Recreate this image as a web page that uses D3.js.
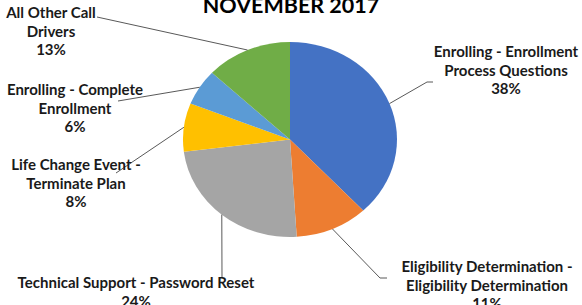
<!DOCTYPE html>
<html><head><meta charset="utf-8">
<script src="https://cdn.jsdelivr.net/npm/d3@7"></script>
<style>body{margin:0;background:#fff}svg{display:block}</style>
</head><body><svg id="c" width="582" height="305"></svg>
<script>
const title = "NOVEMBER 2017";
const categories = [
  "Enrolling - Enrollment Process Questions",
  "Eligibility Determination - Eligibility Determination",
  "Technical Support - Password Reset",
  "Life Change Event - Terminate Plan",
  "Enrolling - Complete Enrollment",
  "All Other Call Drivers"
];
const values = [38, 11, 24, 8, 6, 13];
const labelLines = [
  ["Enrolling - Enrollment", "Process Questions"],
  ["Eligibility Determination -", "Eligibility Determination"],
  ["Technical Support - Password Reset"],
  ["Life Change Event -", "Terminate Plan"],
  ["Enrolling - Complete", "Enrollment"],
  ["All Other Call", "Drivers"]
];
const colors = ["#4472C4", "#ED7D31", "#A5A5A5", "#FFC000", "#5B9BD5", "#70AD47"];

// layout
const cx = 290, cy = 139.5, rx = 107, ry = 97.5;
const labelPos = [
  {x: 506, y: 57, pts: [[427, 82], [433, 82]]},
  {x: 487, y: 272, pts: [[380, 278], [387, 278]]},
  {x: 136, y: 288, pts: [[222, 278]]},
  {x: 76, y: 170, pts: [[116, 173]]},
  {x: 75, y: 95, pts: [[118, 101]]},
  {x: 51, y: 18, pts: [[97, 17]]}
];
const lineH = 18.5;
const font = "Lato, 'Open Sans', sans-serif";

const svg = d3.select("#c");
svg.append("text").attr("x", 291).attr("y", 13).attr("text-anchor", "middle")
  .attr("font-family", font).attr("font-weight", "bold").attr("font-size", 21.5)
  .attr("fill", "#000").text(title);

const pie = d3.pie().sort(null).value(d => d)(values);
const arc = d3.arc().innerRadius(0).outerRadius(ry);
const g = svg.append("g").attr("transform", `translate(${cx},${cy}) scale(${rx / ry},1)`);
g.selectAll("path").data(pie).join("path")
  .attr("d", arc).attr("fill", (d, i) => colors[i]);

pie.forEach((d, i) => {
  const a = (d.startAngle + d.endAngle) / 2;
  const sx = cx + rx * Math.sin(a), sy = cy - ry * Math.cos(a);
  const pts = [[sx, sy], ...labelPos[i].pts];
  svg.append("path").attr("d", d3.line()(pts)).attr("fill", "none")
    .attr("stroke", "#595959").attr("stroke-width", 1);
  const t = svg.append("text").attr("text-anchor", "middle")
    .attr("font-family", font).attr("font-weight", "bold").attr("font-size", 15)
    .attr("fill", "#1a1a1a");
  const lines = [...labelLines[i], values[i] + "%"];
  lines.forEach((s, k) => {
    t.append("tspan").attr("x", labelPos[i].x).attr("y", labelPos[i].y + k * lineH).text(s);
  });
});
</script></body></html>
